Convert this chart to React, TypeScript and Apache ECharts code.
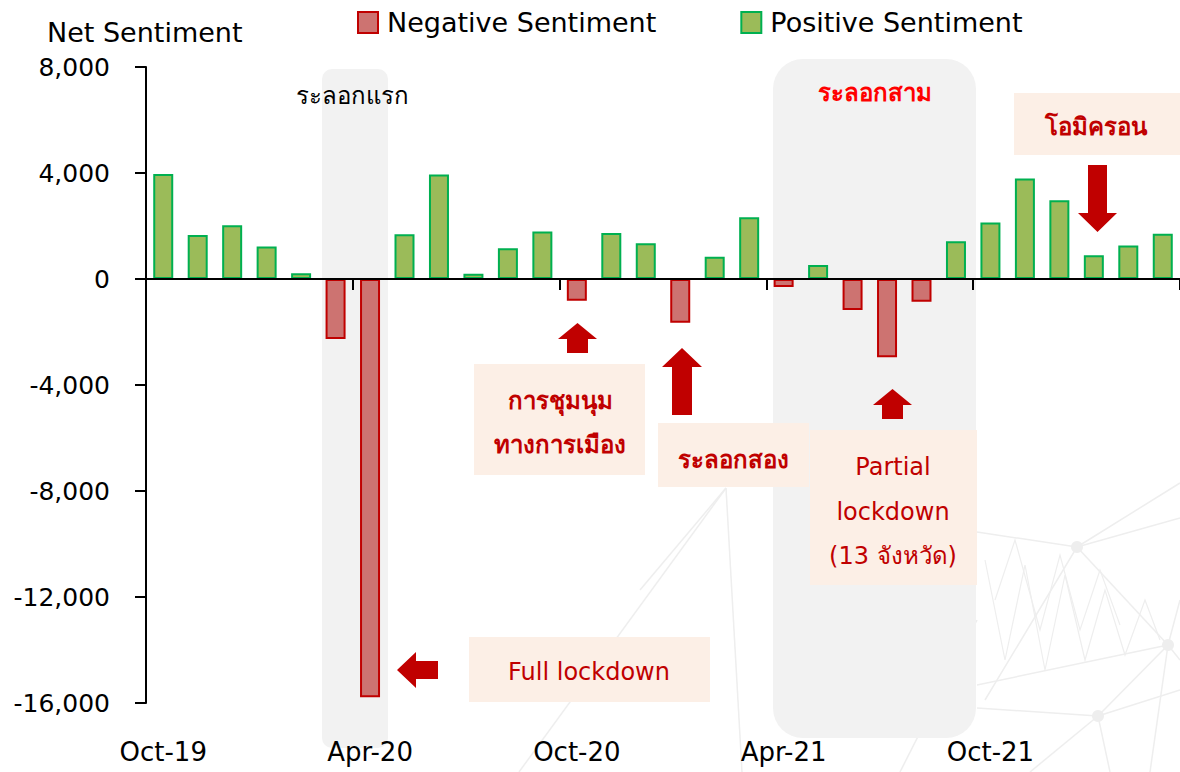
import React, { useEffect, useRef } from "react";
import * as echarts from "echarts";

const months = [
  "Oct-19", "Nov-19", "Dec-19", "Jan-20", "Feb-20", "Mar-20", "Apr-20", "May-20", "Jun-20", "Jul-20",
  "Aug-20", "Sep-20", "Oct-20", "Nov-20", "Dec-20", "Jan-21", "Feb-21", "Mar-21", "Apr-21", "May-21",
  "Jun-21", "Jul-21", "Aug-21", "Sep-21", "Oct-21", "Nov-21", "Dec-21", "Jan-22", "Feb-22", "Mar-22",
];
const netSentiment = [
  3960, 1660, 2030, 1230, 220, -2260, -15780, 1690, 3940, 200,
  1160, 1790, -820, 1740, 1350, -1650, 840, 2330, -300, 530,
  -1170, -2950, -860, 1420, 2130, 3790, 2970, 900, 1260, 1710,
];
const yTicks = { min: -16000, max: 8000, interval: 4000 };
const seriesNames = ["Negative Sentiment", "Positive Sentiment"];
const titleText = "Net Sentiment";

const FONT = "'DejaVu Sans', 'Noto Sans', sans-serif";
const DARK_RED = "#c00000";
const BOX = "#fcefe6";
const BAND = "#f2f2f2";
const WM = "#eeeeee";

function arrowUp(cx: number, top: number, headBase: number, bottom: number, headHalf: number, bodyHalf: number) {
  return [
    [cx, top], [cx + headHalf, headBase], [cx + bodyHalf, headBase], [cx + bodyHalf, bottom],
    [cx - bodyHalf, bottom], [cx - bodyHalf, headBase], [cx - headHalf, headBase],
  ];
}

function buildGraphic() {
  const els: any[] = [];
  const wmLines = [
    [[519, 772], [726, 488]], [[726, 488], [742, 772]], [[726, 488], [640, 590]],
    [[977, 532], [1077, 547]], [[977, 685], [1168, 645]], [[1077, 547], [1180, 483]],
    [[1077, 547], [1180, 518]], [[1077, 547], [1168, 645]], [[1077, 547], [985, 700]],
    [[1168, 645], [1180, 600]], [[1168, 645], [1098, 716]], [[1168, 645], [1150, 772]],
    [[1098, 716], [977, 708]], [[1098, 716], [1180, 690]], [[1098, 716], [1110, 772]],
    [[1098, 716], [1030, 772]], [[1168, 645], [1180, 660]], [[900, 772], [977, 620]],
  ];
  wmLines.forEach((pts) =>
    els.push({ type: "polyline", z: -5, silent: true, shape: { points: pts }, style: { stroke: WM, lineWidth: 1.5, fill: null } })
  );
  els.push({
    type: "polyline", z: -5, silent: true,
    shape: { points: [[985, 560], [1005, 660], [1025, 565], [1045, 670], [1065, 575], [1085, 660], [1105, 590], [1125, 655], [1145, 600], [1160, 640]] },
    style: { stroke: WM, lineWidth: 1.2, fill: null },
  });
  els.push({
    type: "polyline", z: -5, silent: true,
    shape: { points: [[995, 600], [1015, 540], [1040, 630], [1060, 555], [1080, 630], [1100, 570], [1120, 625]] },
    style: { stroke: WM, lineWidth: 1.2, fill: null },
  });
  [[1077, 547], [1168, 645], [1098, 716]].forEach(([x, y]) =>
    els.push({ type: "circle", z: -5, silent: true, shape: { cx: x, cy: y, r: 6 }, style: { fill: WM } })
  );

  // wave bands
  els.push({ type: "rect", z: -2, silent: true, shape: { x: 322, y: 69, width: 66, height: 679, r: 10 }, style: { fill: BAND } });
  els.push({ type: "rect", z: -2, silent: true, shape: { x: 773, y: 59, width: 203, height: 679, r: 30 }, style: { fill: BAND } });

  // annotation boxes
  const boxes = [
    [469, 637, 241, 65], [474, 364, 171, 111], [658, 423, 151, 64], [810, 430, 167, 155], [1014, 93, 166, 62],
  ];
  boxes.forEach(([x, y, w, h]) =>
    els.push({ type: "rect", z: 5, silent: true, shape: { x, y, width: w, height: h }, style: { fill: BOX } })
  );

  // arrows
  els.push({
    type: "polygon", z: 6, silent: true,
    shape: { points: [[397, 670], [416, 652], [416, 661], [438, 661], [438, 679], [416, 679], [416, 688]] },
    style: { fill: DARK_RED },
  });
  els.push({ type: "polygon", z: 6, silent: true, shape: { points: arrowUp(577.5, 323, 339, 353, 19.5, 10.5) }, style: { fill: DARK_RED } });
  els.push({ type: "polygon", z: 6, silent: true, shape: { points: arrowUp(682, 348, 367, 415, 20, 10) }, style: { fill: DARK_RED } });
  els.push({ type: "polygon", z: 6, silent: true, shape: { points: arrowUp(892.5, 389, 405, 419, 19.5, 10.5) }, style: { fill: DARK_RED } });
  els.push({
    type: "polygon", z: 6, silent: true,
    shape: { points: [[1097.5, 232], [1117, 213], [1107, 213], [1107, 165], [1088, 165], [1088, 213], [1078, 213]] },
    style: { fill: DARK_RED },
  });

  const texts: any[] = [
    ["ระลอกแรก", 352, 96, "#000", 24, "normal"],
    ["ระลอกสาม", 875, 93, "#ff0000", 24, "bold"],
    ["โอมิครอน", 1096, 127, DARK_RED, 24, "bold"],
    ["การชุมนุม", 560, 401, DARK_RED, 24, "bold"],
    ["ทางการเมือง", 560, 445, DARK_RED, 24, "bold"],
    ["ระลอกสอง", 733, 460, DARK_RED, 24, "bold"],
    ["Partial", 893, 467, DARK_RED, 24, "normal"],
    ["lockdown", 893, 512, DARK_RED, 24, "normal"],
    ["(13 จังหวัด)", 893, 556, DARK_RED, 24, "normal"],
    ["Full lockdown", 589, 672, DARK_RED, 24, "normal"],
  ];
  texts.forEach(([t, x, y, c, s, w]) =>
    els.push({
      type: "text", z: 7, silent: true, x, y,
      style: { text: t, fill: c, font: `${w} ${s}px ${FONT}`, align: "center", verticalAlign: "middle" },
    })
  );
  els.push({
    type: "text", z: 7, silent: true, x: 47, y: 32,
    style: { text: titleText, fill: "#000", font: `normal 27px ${FONT}`, align: "left", verticalAlign: "middle" },
  });
  return els;
}

export default function App() {
  const ref = useRef<HTMLDivElement>(null);
  useEffect(() => {
    if (!ref.current) return;
    const chart = echarts.init(ref.current, null, { renderer: "svg" });
    const negative = netSentiment.map((v) => (v < 0 ? v : null));
    const positive = netSentiment.map((v) => (v >= 0 ? v : null));
    chart.setOption({
      animation: false,
      backgroundColor: "#ffffff",
      textStyle: { fontFamily: FONT },
      grid: { left: 146, right: 0, top: 67, bottom: 69, containLabel: false },
      legend: {
        data: seriesNames,
        left: 357,
        top: 9,
        icon: "rect",
        itemWidth: 20,
        itemHeight: 21,
        itemGap: 84,
        padding: 0,
        textStyle: { fontSize: 27, color: "#000", fontFamily: FONT, padding: [0, 0, 0, 4] },
      },
      xAxis: [
        {
          type: "category",
          data: months,
          axisLine: { onZero: true, lineStyle: { color: "#000", width: 2 } },
          axisTick: { show: true, interval: 5, length: 11, lineStyle: { color: "#000", width: 2 } },
          axisLabel: { show: false },
          splitLine: { show: false },
          z: 3,
        },
        {
          type: "category",
          data: months,
          position: "bottom",
          axisLine: { show: false, onZero: false },
          axisTick: { show: false },
          axisLabel: { interval: 5, margin: 36, fontSize: 26, color: "#000", fontFamily: FONT },
          splitLine: { show: false },
        },
      ],
      yAxis: {
        type: "value",
        min: yTicks.min,
        max: yTicks.max,
        interval: yTicks.interval,
        axisLine: { show: true, lineStyle: { color: "#000", width: 2 } },
        axisTick: { show: true, length: 11, lineStyle: { color: "#000", width: 2 } },
        splitLine: { show: false },
        axisLabel: {
          margin: 36,
          fontSize: 25,
          color: "#000",
          fontFamily: FONT,
          formatter: (v: number) => v.toLocaleString("en-US"),
        },
      },
      series: [
        {
          name: seriesNames[0],
          type: "bar",
          stack: "net",
          data: negative,
          barWidth: 20,
          itemStyle: { color: "#cd7371", borderColor: DARK_RED, borderWidth: 2 },
        },
        {
          name: seriesNames[1],
          type: "bar",
          stack: "net",
          data: positive,
          barWidth: 20,
          itemStyle: { color: "#9bbb59", borderColor: "#00b050", borderWidth: 2 },
        },
      ],
      graphic: { elements: buildGraphic() },
    });
    return () => chart.dispose();
  }, []);
  return <div ref={ref} style={{ position: "absolute", left: 0, top: 0, width: 1180, height: 772 }} />;
}
